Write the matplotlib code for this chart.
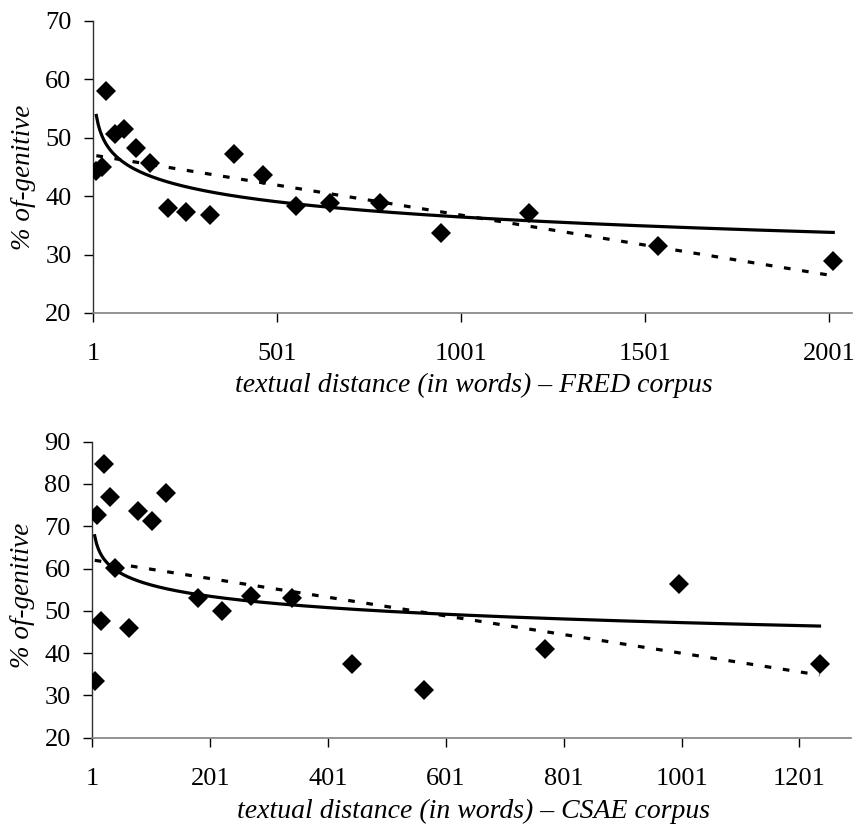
import numpy as np
import matplotlib
matplotlib.use("Agg")
import matplotlib.pyplot as plt

plt.rcParams['font.family'] = ['Liberation Serif', 'DejaVu Serif']
plt.rcParams['lines.scale_dashes'] = False

# FRED corpus: textual distance vs. share of of-genitives
fred_dist = [10, 25, 35, 60, 85, 118, 155, 205, 253, 320, 385, 463,
             552, 645, 780, 947, 1186, 1537, 2012]
fred_pct = [44.3, 45.0, 58.0, 50.6, 51.5, 48.3, 45.6, 38.0, 37.3, 36.7, 47.2, 43.7,
            38.3, 38.8, 38.8, 33.7, 37.2, 31.5, 28.9]

# CSAE corpus
csae_dist = [5, 9, 16, 21, 31, 40, 64, 79, 102, 126, 180, 221, 271, 339,
             442, 564, 770, 997, 1235]
csae_pct = [33.4, 72.7, 47.6, 84.7, 77.0, 60.1, 46.0, 73.7, 71.3, 77.9, 53.1, 50.0,
            53.5, 53.1, 37.5, 31.3, 41.1, 56.3, 37.4]

fred_xticks = [1, 501, 1001, 1501, 2001]
fred_yticks = [20, 30, 40, 50, 60, 70]
csae_xticks = [1, 201, 401, 601, 801, 1001, 1201]
csae_yticks = [20, 30, 40, 50, 60, 70, 80, 90]


def draw_panel(ax, dist, pct, xticks, yticks, xmax, xlabel, ylab_y):
    x = np.asarray(dist, dtype=float)
    y = np.asarray(pct, dtype=float)
    xs = np.linspace(x.min(), x.max(), 400)

    # logarithmic trend (solid) and linear trend (dashed)
    b, a = np.polyfit(np.log(x), y, 1)
    ax.plot(xs, a + b * np.log(xs), color='black', lw=2.3, zorder=2)
    m, c = np.polyfit(x, y, 1)
    ax.plot(xs, c + m * xs, color='black', lw=2.3, dashes=(4.8, 8.4), zorder=2)

    ax.plot(x, y, 'D', color='black', ms=10, mew=0, zorder=3)

    ax.set_xlim(1, xmax)
    ax.set_ylim(yticks[0], yticks[-1])
    ax.set_xticks(xticks)
    ax.set_yticks(yticks)
    ax.tick_params(direction='out', length=6.5, width=1, labelsize=19, colors='black')
    ax.tick_params(axis='x', pad=15)
    ax.tick_params(axis='y', pad=9)
    for side in ('top', 'right'):
        ax.spines[side].set_visible(False)
    ax.spines['bottom'].set_color('#808080')
    ax.spines['left'].set_color('#303030')
    ax.spines['bottom'].set_linewidth(1.2)
    ax.spines['left'].set_linewidth(1.0)
    ax.set_xlabel(xlabel, fontsize=20, style='italic')
    ax.set_ylabel('% of-genitive', fontsize=19.5, style='italic')
    ax.xaxis.set_label_coords(0.502, -0.205)
    ax.yaxis.set_label_coords(-0.075, ylab_y)


fig = plt.figure(figsize=(8.55, 8.32), dpi=100)
ax1 = fig.add_axes([0.1088, 0.6238, 0.8877, 0.351])
ax2 = fig.add_axes([0.1080, 0.1133, 0.8877, 0.3558])

draw_panel(ax1, fred_dist, fred_pct, fred_xticks, fred_yticks, 2063,
           'textual distance (in words) \u2013 FRED corpus', 0.465)
draw_panel(ax2, csae_dist, csae_pct, csae_xticks, csae_yticks, 1289,
           'textual distance (in words) \u2013 CSAE corpus', 0.48)

fig.savefig('out.png', dpi=100)
